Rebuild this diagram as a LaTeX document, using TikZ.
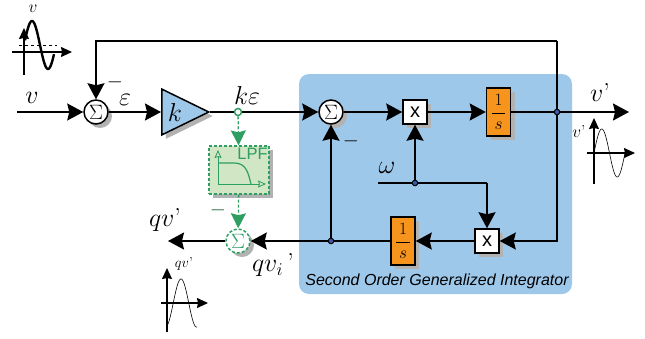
\documentclass[tikz,border=0pt]{standalone}
\usepackage{fontspec}
\setsansfont{Liberation Sans}
\usetikzlibrary{arrows.meta,shapes.geometric,shadows}
\definecolor{panelblue}{HTML}{9EC8EA}
\definecolor{intorange}{HTML}{F7941D}
\definecolor{lpfgreen}{HTML}{2E9E63}
\definecolor{lpffill}{HTML}{D0E6C4}
\definecolor{dotblue}{HTML}{3B5BA5}
\tikzset{
  boxshadow/.style={drop shadow={shadow xshift=4pt,shadow yshift=-4pt,fill=black!30,opacity=1}},
  sumnode/.style={circle,draw,line width=1.5pt,fill=white,minimum size=24pt,inner sep=0pt,boxshadow,font=\huge},
  multbox/.style={rectangle,draw,line width=1.5pt,fill=white,minimum size=24pt,inner sep=0pt,boxshadow,font=\sffamily\fontsize{20}{22}\selectfont},
  intbox/.style={rectangle,draw,line width=1.5pt,fill=intorange,minimum width=24pt,minimum height=48pt,inner sep=0pt,boxshadow,font=\LARGE},
  junct/.style={circle,draw,line width=1pt,fill=dotblue,minimum size=5.5pt,inner sep=0pt},
  wire/.style={line width=1.5pt},
  sig/.style={line width=1.5pt,-{Stealth[length=16pt,width=17pt,inset=2pt]}},
  greensig/.style={line width=1.3pt,lpfgreen,densely dashed,-{Stealth[length=15pt,width=15pt,inset=2pt,fill=lpfgreen]}},
  axis/.style={line width=1.3pt,-{Stealth[length=11pt,width=10pt,inset=1pt]}},
  lpfaxis/.style={line width=0.8pt,lpfgreen,-{Stealth[length=8pt,width=7pt,inset=1pt,open]}},
  biglabel/.style={inner sep=0pt,font=\huge,scale=1.25},
  smalllabel/.style={inner sep=0pt,font=\LARGE},
  minuslabel/.style={inner sep=0pt,font=\huge}
}
\begin{document}
\begin{tikzpicture}[x=1pt,y=-1pt]
    \useasboundingbox (0,0) rectangle (645,338);

    % integrator panel
    \fill[panelblue,rounded corners=10pt] (299,74) rectangle (572,294);
    \node[inner sep=0pt,font=\sffamily\itshape\fontsize{16}{18}\selectfont] (sogilabel) at (437,281) {Second Order Generalized Integrator};

    % forward path blocks
    \node[sumnode] (sumin) at (96,112) {$\Sigma$};
    \node[isosceles triangle,isosceles triangle apex angle=52,minimum height=47pt,inner sep=0pt,anchor=west,draw,line width=1.5pt,fill=panelblue,boxshadow] (gain) at (161,112) {};
    \node[biglabel] (gainlabel) at (175,112) {$k$};
    \node[circle,draw=lpfgreen,line width=1.5pt,fill=white,minimum size=7pt,inner sep=0pt] (tap) at (238,112) {};
    \node[sumnode] (sumsogi) at (331,112) {$\Sigma$};
    \node[multbox] (multtop) at (415,112) {x};
    \node[intbox] (inttop) at (498.5,112) {$\displaystyle\frac{\,1\,}{s}$};
    \node[junct] (jout) at (557,112) {};

    % lower path blocks
    \node[multbox] (multbot) at (487,241) {x};
    \node[intbox] (intbot) at (403,241) {$\displaystyle\frac{\,1\,}{s}$};
    \node[junct] (jback) at (331,241) {};
    \node[junct] (jomega) at (415,183) {};
    \node[sumnode,draw=lpfgreen,densely dashed,text=lpfgreen] (sumq) at (238,241) {$\Sigma$};

    % low pass filter box
    \node[rectangle,draw=lpfgreen,line width=1.2pt,densely dashed,fill=lpffill,minimum width=60pt,minimum height=48pt,inner sep=0pt,boxshadow] (lpf) at (239,170) {};
    \node[inner sep=0pt,text=lpfgreen,font=\sffamily\fontsize{16.5}{20}\selectfont] (lpflabel) at (252.5,154) {LPF};
    \coordinate (lpfo) at (218,184);
    \draw[lpfaxis] (lpfo) -- (218,150);
    \draw[lpfaxis] (lpfo) -- (266,184);
    \draw[line width=1.2pt,lpfgreen] (218,163) -- (234,163) .. controls (246,163) and (248,172) .. (251,184);

    % free ends
    \coordinate (vin) at (17,112);
    \coordinate (vout) at (629,112);
    \coordinate (qvout) at (168,241);
    \coordinate (fbtop) at (557,41);
    \coordinate (omegain) at (378,183);
    \coordinate (omegacorner) at (487,183);

    % connectors
    \draw[sig] (vin) -- (sumin);
    \draw[sig] (sumin) -- (gain.west);
    \draw[wire] (gain.east) -- (tap);
    \draw[sig] (tap) -- (sumsogi);
    \draw[sig] (sumsogi) -- (multtop);
    \draw[sig] (multtop) -- (inttop);
    \draw[wire] (inttop) -- (jout);
    \draw[sig] (jout) -- (vout);
    \draw[wire] (jout) -- (fbtop);
    \draw[sig] (fbtop) -| (sumin);
    \draw[sig] (jout) |- (multbot);
    \draw[sig] (multbot) -- (intbot);
    \draw[wire] (intbot) -- (jback);
    \draw[sig] (jback) -- (sumsogi);
    \draw[sig] (jback) -- (sumq);
    \draw[sig] (sumq) -- (qvout);
    \draw[wire] (omegain) -- (jomega);
    \draw[sig] (jomega) -- (multtop);
    \draw[wire] (jomega) -- (omegacorner);
    \draw[sig] (omegacorner) -- (multbot);
    \draw[greensig] (tap) -- (lpf);
    \draw[greensig] (lpf) -- (sumq);

    % labels
    \node[biglabel] (vlabel) at (32,98) {$v$};
    \node[biglabel] (errlabel) at (125,100) {$\varepsilon$};
    \node[biglabel] (kelabel) at (247,95) {$k\varepsilon$};
    \node[biglabel] (omegalabel) at (387,168) {$\omega$};
    \node[biglabel] (voutlabel) at (600,92) {$v$'};
    \node[biglabel] (qvlabel) at (165,220) {$qv$'};
    \node[biglabel] (qvilabel) at (273,265) {$qv_i$\,'};
    \node[minuslabel] (minustop) at (115,82) {$-$};
    \node[minuslabel] (minussogi) at (351,141) {$-$};
    \node[minuslabel,text=lpfgreen!60!black] (minusq) at (218,210) {$-$};

    % input wave
    \draw[axis] (24,75) -- (24,28);
    \draw[axis] (12,52) -- (72,52);
    \draw[line width=1pt,dashed] (19,45) -- (57,45);
    \draw[line width=2.4pt,samples=60] plot[variable=\t, domain=25:54] ({\t},{45-24*sin(360*(\t-24)/32)});
    \node[smalllabel] (wavev) at (33,9) {$v$};

    % output wave
    \draw[axis] (594,184) -- (594,118);
    \draw[axis] (587,153) -- (635,153);
    \draw[line width=0.6pt,samples=60] plot[variable=\t, domain=594:625] ({\t},{153-24*sin(360*(\t-594)/31)});
    \node[smalllabel] (wavevout) at (579,131) {$v$'};

    % quadrature wave
    \draw[axis] (167,332) -- (167,268);
    \draw[axis] (161,303) -- (208,303);
    \draw[line width=0.6pt,samples=60] plot[variable=\t, domain=167:197] ({\t},{303-24*cos(360*(\t-181)/31)});
    \node[inner sep=0pt,font=\Large] (waveqv) at (184,264) {$qv$'};
\end{tikzpicture}
\end{document}
